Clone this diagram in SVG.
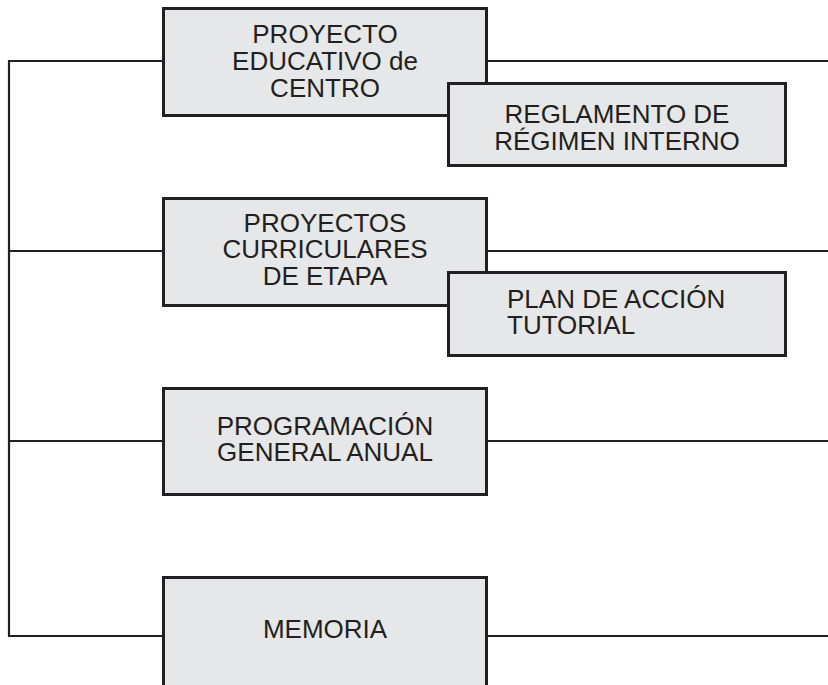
<svg xmlns="http://www.w3.org/2000/svg" width="828" height="685" viewBox="0 0 828 685">
<style>
.box{fill:#e6e7e8;stroke:#231f20;stroke-width:3}
.ln{fill:none;stroke:#231f20;stroke-width:2.2}
.t{font-family:"Liberation Sans",Arial,sans-serif;font-size:26px;fill:#231f20}
.c{text-anchor:middle}
</style>
<rect width="828" height="685" fill="#ffffff"/>
<g id="connectors">
<path class="ln" d="M9,61 V636"/>
<path class="ln" d="M8,61 H163 M487,61 H828"/>
<path class="ln" d="M9,251 H163 M487,251 H828"/>
<path class="ln" d="M9,441 H163 M487,441 H828"/>
<path class="ln" d="M8,636 H163 M487,636 H828"/>
</g>
<g id="proyecto-educativo">
<rect class="box" x="163.5" y="8.5" width="323" height="107"/>
<text class="t c" x="325" y="43">PROYECTO</text>
<text class="t c" x="325" y="70">EDUCATIVO de</text>
<text class="t c" x="325" y="97">CENTRO</text>
</g>
<g id="reglamento">
<rect class="box" x="448.5" y="83.5" width="337" height="82"/>
<text class="t c" x="617" y="123">REGLAMENTO DE</text>
<text class="t c" x="617" y="150">RÉGIMEN INTERNO</text>
</g>
<g id="proyectos-curriculares">
<rect class="box" x="163.5" y="198.5" width="323" height="107"/>
<text class="t c" x="325" y="232">PROYECTOS</text>
<text class="t c" x="325" y="258">CURRICULARES</text>
<text class="t c" x="325" y="285">DE ETAPA</text>
</g>
<g id="plan-accion-tutorial">
<rect class="box" x="448.5" y="272.5" width="337" height="83"/>
<text class="t" x="507" y="308">PLAN DE ACCIÓN</text>
<text class="t" x="507" y="334">TUTORIAL</text>
</g>
<g id="programacion">
<rect class="box" x="163.5" y="388.5" width="323" height="106"/>
<text class="t c" x="325" y="435">PROGRAMACIÓN</text>
<text class="t c" x="325" y="461">GENERAL ANUAL</text>
</g>
<g id="memoria">
<rect class="box" x="163.5" y="577.5" width="323" height="115"/>
<text class="t c" x="325" y="638">MEMORIA</text>
</g>
</svg>
